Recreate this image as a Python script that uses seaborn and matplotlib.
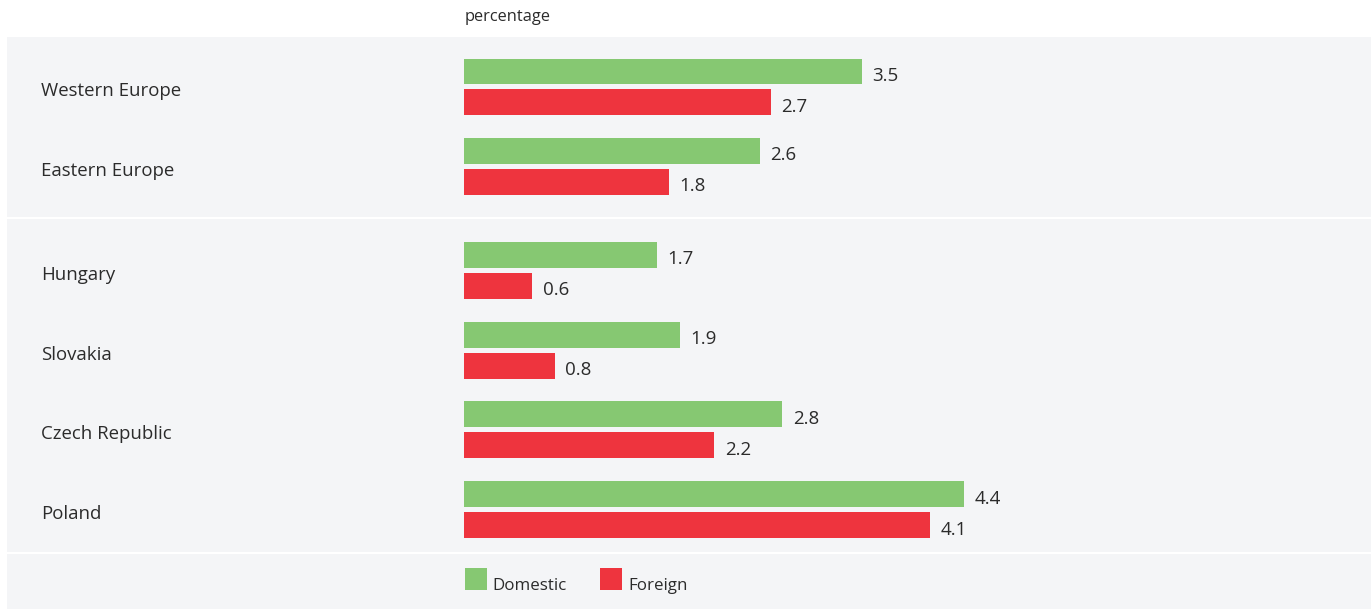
import matplotlib
matplotlib.use("Agg")
import matplotlib.pyplot as plt
import seaborn as sns
import pandas as pd
from matplotlib.patches import Rectangle

regions = ["Western Europe", "Eastern Europe"]
countries = ["Hungary", "Slovakia", "Czech Republic", "Poland"]
series = ["Domestic", "Foreign"]
domestic_regions = [3.5, 2.6]
foreign_regions = [2.7, 1.8]
domestic_countries = [1.7, 1.9, 2.8, 4.4]
foreign_countries = [0.6, 0.8, 2.2, 4.1]
unit_label = "percentage"

GREEN = "#86c872"
RED = "#ee343e"
BG = "#f4f5f7"
TXT = "#2b2b2b"

sns.set_theme(style="white")
plt.rcParams["font.family"] = ["Open Sans", "DejaVu Sans"]

W, H = 1371, 609
fig = plt.figure(figsize=(W / 100, H / 100), dpi=100)
fig.patch.set_facecolor("white")

def frac_box(x0, y0, x1, y1):
    return [x0 / W, 1 - y1 / H, (x1 - x0) / W, (y1 - y0) / H]

def make_df(cats, dom, forg):
    rows = []
    for c, d, f in zip(cats, dom, forg):
        rows.append({"cat": c, "series": series[0], "value": d})
        rows.append({"cat": c, "series": series[1], "value": f})
    return pd.DataFrame(rows)

x0_px, x1_px, zero_px, ppu = 7, 1371, 464, 113.7
xlim = (-(zero_px - x0_px) / ppu, (x1_px - zero_px) / ppu)
PITCH = 80.0  # px per category

def panel(box, cats, dom, forg, top_off, bot_off):
    ax = fig.add_axes(frac_box(*box))
    df = make_df(cats, dom, forg)
    sns.barplot(data=df, y="cat", x="value", hue="series", orient="h",
                palette=[GREEN, RED], width=0.775, gap=0.16, ax=ax,
                legend=False, saturation=1, errorbar=None, linewidth=0)
    ax.set_facecolor(BG)
    ax.set_xlim(*xlim)
    ax.set_ylim(len(cats) - 1 + bot_off, -top_off)
    for s in ax.spines.values():
        s.set_visible(False)
    ax.set_xticks([]); ax.set_yticks([])
    ax.set_xlabel(""); ax.set_ylabel("")
    for cont in ax.containers:
        for bar in cont:
            w = bar.get_width()
            yc = bar.get_y() + bar.get_height() / 2
            ax.text(w + 10.5 / ppu, yc + 9.5 / PITCH, f"{w:.1f}", ha="left",
                    va="baseline", fontsize=13.5, color=TXT)
    trans = matplotlib.transforms.blended_transform_factory(fig.transFigure, ax.transData)
    for i, c in enumerate(cats):
        ax.text(41 / W, i + 9.5 / PITCH, c, transform=trans, ha="left", va="baseline",
                fontsize=13.4, color=TXT)
    return ax

panel((x0_px, 37, x1_px, 217), regions, domestic_regions, foreign_regions, 0.63, 0.64)
panel((x0_px, 219, x1_px, 552), countries, domestic_countries, foreign_countries, 0.644, 0.53)

# legend band
fig.patches.append(Rectangle((x0_px / W, 0), (x1_px - x0_px) / W, (609 - 554) / H,
                             transform=fig.transFigure, facecolor=BG, edgecolor="none", zorder=0))

fig.text(465 / W, 1 - 21 / H, unit_label, fontsize=11.8, color=TXT, ha="left", va="baseline")

# legend
for (sx, tx), lab, col in zip([(465, 492), (600, 628)], series, [GREEN, RED]):
    fig.patches.append(Rectangle((sx / W, 1 - 590 / H), 22 / W, 22 / H,
                                 transform=fig.transFigure, facecolor=col,
                                 edgecolor="none", zorder=2))
    fig.text(tx / W, 1 - 590.5 / H, lab, fontsize=12.2, color=TXT, ha="left", va="baseline")

fig.savefig("out.png", dpi=100, facecolor="white")
